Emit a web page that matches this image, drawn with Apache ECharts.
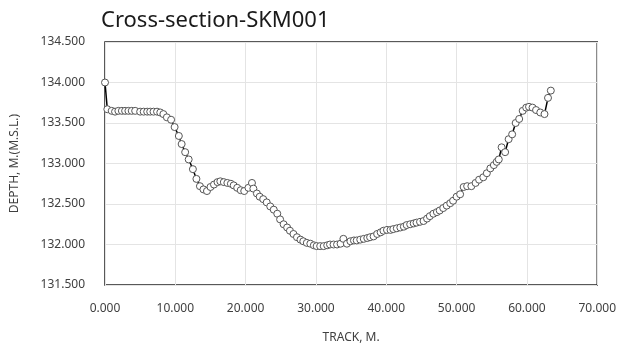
<!DOCTYPE html>
<html>
<head>
<meta charset="utf-8">
<script src="https://cdn.jsdelivr.net/npm/echarts@6/dist/echarts.min.js"></script>
<style type="text/css">
html,body{margin:0;padding:0;background:#fff;}
#chart{width:619px;height:349px;}
</style>
</head>
<body>
<div id="chart"></div>
<script type="text/javascript">
// 断面数据 (TRACK, M. / DEPTH, M.(M.S.L.))
var track = [
    0, 0.33, 0.95, 1.43, 1.9, 2.4, 2.86, 3.33, 3.8, 4.29, 5.0, 5.5, 6.0, 6.43, 6.9, 7.4, 7.86,
    8.3, 8.8, 9.4, 9.9, 10.5, 10.9, 11.4, 11.9, 12.5, 13.0, 13.5, 14.0, 14.5, 15.0, 15.5,
    16.0, 16.4, 16.9, 17.4, 17.9, 18.3, 18.8, 19.3, 19.8, 20.4, 20.9, 21.1, 21.6, 22.0,
    22.5, 23.0, 23.5, 24.0, 24.5, 24.9, 25.4, 25.9, 26.3, 26.8, 27.3, 27.8, 28.2, 28.7,
    29.2, 29.7, 30.1, 30.6, 31.1, 31.6, 32.0, 32.5, 33.0, 33.5, 33.9, 34.4, 34.9, 35.4,
    35.8, 36.3, 36.8, 37.3, 37.7, 38.2, 38.7, 39.2, 39.6, 40.1, 40.6, 41.0, 41.5, 42.0,
    42.5, 42.9, 43.4, 43.9, 44.3, 44.8, 45.3, 45.8, 46.2, 46.7, 47.2, 47.6, 48.1, 48.6,
    49.1, 49.5, 50.0, 50.5, 51.0, 51.5, 52.1, 52.7, 53.2, 53.8, 54.3, 54.8, 55.3, 55.7,
    56.0, 56.4, 56.9, 57.4, 57.9, 58.4, 58.9, 59.4, 59.9, 60.3, 60.8, 61.3, 61.9, 62.5,
    63.0, 63.4
];
var depth = [
    134.00, 133.67, 133.65, 133.64, 133.65, 133.65, 133.65, 133.65, 133.65, 133.65, 133.64, 133.64, 133.64, 133.64, 133.64, 133.64, 133.63,
    133.61, 133.57, 133.54, 133.45, 133.34, 133.24, 133.14, 133.05, 132.93, 132.81, 132.72, 132.68, 132.66, 132.71, 132.74,
    132.77, 132.78, 132.77, 132.76, 132.75, 132.73, 132.70, 132.67, 132.66, 132.70, 132.76, 132.69, 132.63, 132.59,
    132.56, 132.52, 132.47, 132.43, 132.38, 132.31, 132.25, 132.21, 132.17, 132.13, 132.09, 132.06, 132.04, 132.02,
    132.01, 131.99, 131.98, 131.98, 131.98, 131.99, 132.00, 132.00, 132.00, 132.01, 132.07, 132.01, 132.04, 132.05,
    132.05, 132.06, 132.07, 132.08, 132.09, 132.10, 132.13, 132.15, 132.17, 132.18, 132.18, 132.19, 132.20, 132.21,
    132.22, 132.24, 132.25, 132.26, 132.27, 132.28, 132.29, 132.32, 132.35, 132.38, 132.40, 132.42, 132.45, 132.48,
    132.51, 132.54, 132.59, 132.62, 132.71, 132.72, 132.72, 132.76, 132.80, 132.83, 132.88, 132.94, 132.98, 133.02,
    133.05, 133.20, 133.14, 133.30, 133.36, 133.50, 133.55, 133.65, 133.69, 133.70, 133.69, 133.66, 133.63, 133.61,
    133.81, 133.90
];

var points = [];
for (var i = 0; i < track.length; i++) {
    points.push([track[i], depth[i]]);
}

var chart = echarts.init(document.getElementById('chart'));
var option = {
    animation: false,
    title: {
        text: 'Cross-section-SKM001',
        left: 96,
        top: 5,
        textStyle: {fontFamily: 'Noto Sans', fontSize: 22, fontWeight: 'normal', color: '#1a1a1a'}
    },
    grid: {
        left: 105, right: 19, top: 42, bottom: 63,
        show: true, borderColor: '#222', borderWidth: 1.5
    },
    xAxis: {
        type: 'value',
        min: 0, max: 70, interval: 10,
        name: 'TRACK, M.',
        nameLocation: 'middle',
        nameGap: 47,
        nameTextStyle: {fontFamily: 'Noto Sans', fontSize: 12, color: '#404040'},
        axisLine: {show: false},
        axisTick: {show: false},
        axisLabel: {
            margin: 18,
            fontFamily: 'Noto Sans', fontSize: 12, color: '#404040',
            formatter: function (v) { return v.toFixed(3); }
        },
        splitLine: {lineStyle: {color: '#e4e4e4', width: 1}}
    },
    yAxis: {
        type: 'value',
        min: 131.5, max: 134.5, interval: 0.5,
        name: 'DEPTH, M.(M.S.L.)',
        nameLocation: 'middle',
        nameGap: 84,
        nameTextStyle: {fontFamily: 'Noto Sans', fontSize: 12, color: '#404040'},
        axisLine: {show: false},
        axisTick: {show: false},
        axisLabel: {
            margin: 20,
            fontFamily: 'Noto Sans', fontSize: 12, color: '#404040',
            formatter: function (v) { return v.toFixed(3); }
        },
        splitLine: {lineStyle: {color: '#e4e4e4', width: 1}}
    },
    series: [{
        type: 'line',
        data: points,
        showAllSymbol: true,
        symbol: 'circle',
        symbolSize: 7,
        itemStyle: {color: '#fff', borderColor: '#555', borderWidth: 1},
        lineStyle: {color: '#000', width: 1.5}
    }]
};
chart.setOption(option);
</script>
</body>
</html>
